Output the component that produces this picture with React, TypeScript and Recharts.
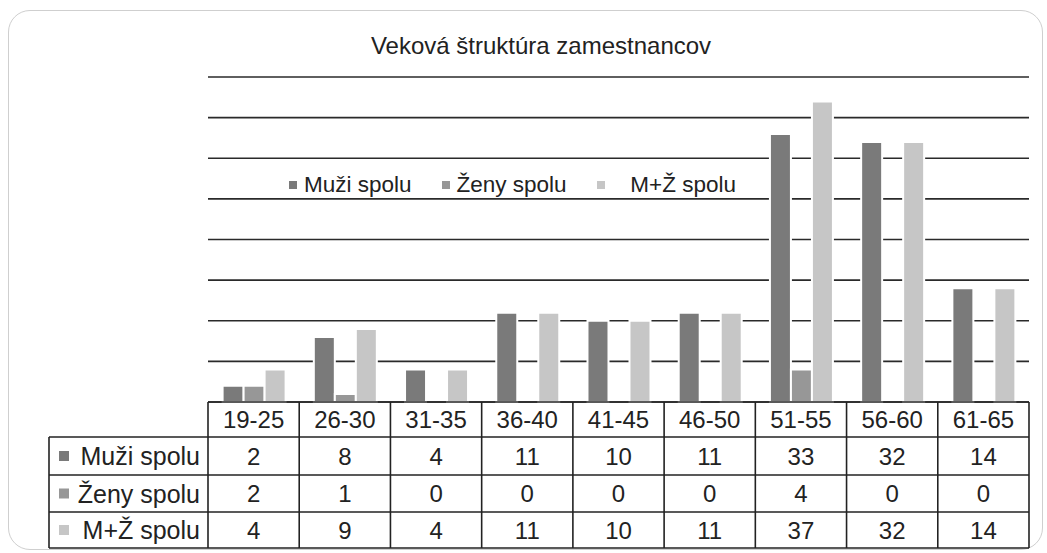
import React from 'react'
import { BarChart, Bar, XAxis, YAxis, CartesianGrid } from 'recharts'

const ageGroups = ['19-25', '26-30', '31-35', '36-40', '41-45', '46-50', '51-55', '56-60', '61-65']
const muzi = [2, 8, 4, 11, 10, 11, 33, 32, 14]
const zeny = [2, 1, 0, 0, 0, 0, 4, 0, 0]
const spolu = [4, 9, 4, 11, 10, 11, 37, 32, 14]
const yTicks = [0, 5, 10, 15, 20, 25, 30, 35, 40]

const series = [
  { key: 'muzi', label: 'Muži spolu', color: '#7a7a7a', values: muzi },
  { key: 'zeny', label: 'Ženy spolu', color: '#979797', values: zeny },
  { key: 'spolu', label: 'M+Ž spolu', color: '#c6c6c6', values: spolu },
]

const data = ageGroups.map((g, i) => ({ group: g, muzi: muzi[i], zeny: zeny[i], spolu: spolu[i] }))

const FONT = '"Liberation Sans", Arial, sans-serif'
const W = 1047
const H = 553
const PLOT_LEFT = 208
const PLOT_RIGHT = 1029
const PLOT_TOP = 77
const PLOT_BOTTOM = 402
const CHART_H = 410

// data table geometry
const LABEL_LEFT = 49
const ROW_Y = [402, 437, 475, 512, 548]
const colW = (PLOT_RIGHT - PLOT_LEFT) / ageGroups.length

function ChartLegend() {
  return (
    <div style={{ position: 'absolute', left: 289, top: 171, height: 28, display: 'flex', alignItems: 'center', fontFamily: FONT, fontSize: 22.5, color: '#222' }}>
      {series.map((s, i) => (
        <span key={s.key} style={{ display: 'flex', alignItems: 'center', marginRight: i < 2 ? 30 : 0 }}>
          <span style={{ width: 8, height: 8, background: s.color, marginRight: 7, display: 'inline-block' }} />
          {s.key === 'spolu' ? '\u00a0\u00a0\u00a0' + s.label : s.label}
        </span>
      ))}
    </div>
  )
}

function DataTable() {
  const lines: React.ReactNode[] = []
  const stroke = '#222'
  lines.push(<line key="h0" x1={PLOT_LEFT} x2={PLOT_RIGHT} y1={ROW_Y[0]} y2={ROW_Y[0]} stroke={stroke} strokeWidth={1.6} />)
  for (let r = 1; r < ROW_Y.length; r++) {
    lines.push(<line key={'h' + r} x1={LABEL_LEFT} x2={PLOT_RIGHT} y1={ROW_Y[r]} y2={ROW_Y[r]} stroke={stroke} strokeWidth={1.6} />)
  }
  lines.push(<line key="vl" x1={LABEL_LEFT} x2={LABEL_LEFT} y1={ROW_Y[1]} y2={ROW_Y[4]} stroke={stroke} strokeWidth={1.6} />)
  for (let c = 0; c <= ageGroups.length; c++) {
    const x = PLOT_LEFT + c * colW
    lines.push(<line key={'v' + c} x1={x} x2={x} y1={ROW_Y[0]} y2={ROW_Y[4]} stroke={stroke} strokeWidth={1.6} />)
  }
  return (
    <svg width={W} height={H} style={{ position: 'absolute', left: 0, top: 0 }}>
      {lines}
      <g fontFamily={FONT} fontSize={24} fill="#222" textAnchor="middle">
        {ageGroups.map((g, c) => (
          <text key={g} x={PLOT_LEFT + (c + 0.5) * colW} y={(ROW_Y[0] + ROW_Y[1]) / 2 + 8.5}>{g}</text>
        ))}
        {series.map((s, r) =>
          s.values.map((v, c) => (
            <text key={s.key + c} x={PLOT_LEFT + (c + 0.5) * colW} y={(ROW_Y[r + 1] + ROW_Y[r + 2]) / 2 + 8.5}>{v}</text>
          ))
        )}
      </g>
      {series.map((s, r) => {
        const cy = (ROW_Y[r + 1] + ROW_Y[r + 2]) / 2
        return (
          <g key={s.key}>
            <rect x={59} y={cy - 5} width={10} height={10} fill={s.color} />
            <text x={200} y={cy + 9} textAnchor="end" fontFamily={FONT} fontSize={25} fill="#222">{s.label}</text>
          </g>
        )
      })}
    </svg>
  )
}

export default function App() {
  return (
    <div style={{ position: 'relative', width: W, height: H, background: '#fff', overflow: 'hidden' }}>
      <style>{'body{margin:0}'}</style>
      <div style={{ position: 'absolute', left: 8, top: 10, width: 1035, height: 540, border: '1px solid #cfcfcf', borderRadius: 22, boxSizing: 'border-box' }} />
      <svg width={W} height={70} style={{ position: 'absolute', left: 0, top: 0 }}>
        <text x={541} y={54} textAnchor="middle" fontFamily={FONT} fontSize={24} fill="#222">
          Veková štruktúra zamestnancov
        </text>
      </svg>
      <div style={{ position: 'absolute', left: 0, top: 0 }}>
        <BarChart
          width={W}
          height={CHART_H}
          data={data}
          margin={{ top: PLOT_TOP, left: PLOT_LEFT, right: W - PLOT_RIGHT, bottom: CHART_H - PLOT_BOTTOM }}
          barCategoryGap={14.6}
          barGap={0}
        >
          <CartesianGrid vertical={false} stroke="#2a2a2a" strokeWidth={1.6} />
          <XAxis dataKey="group" hide />
          <YAxis hide domain={[0, 40]} ticks={yTicks} />
          {series.map((s) => (
            <Bar key={s.key} dataKey={s.key} name={s.label} fill={s.color} stroke="#fff" strokeWidth={2} isAnimationActive={false} />
          ))}
        </BarChart>
      </div>
      <ChartLegend />
      <DataTable />
    </div>
  )
}
